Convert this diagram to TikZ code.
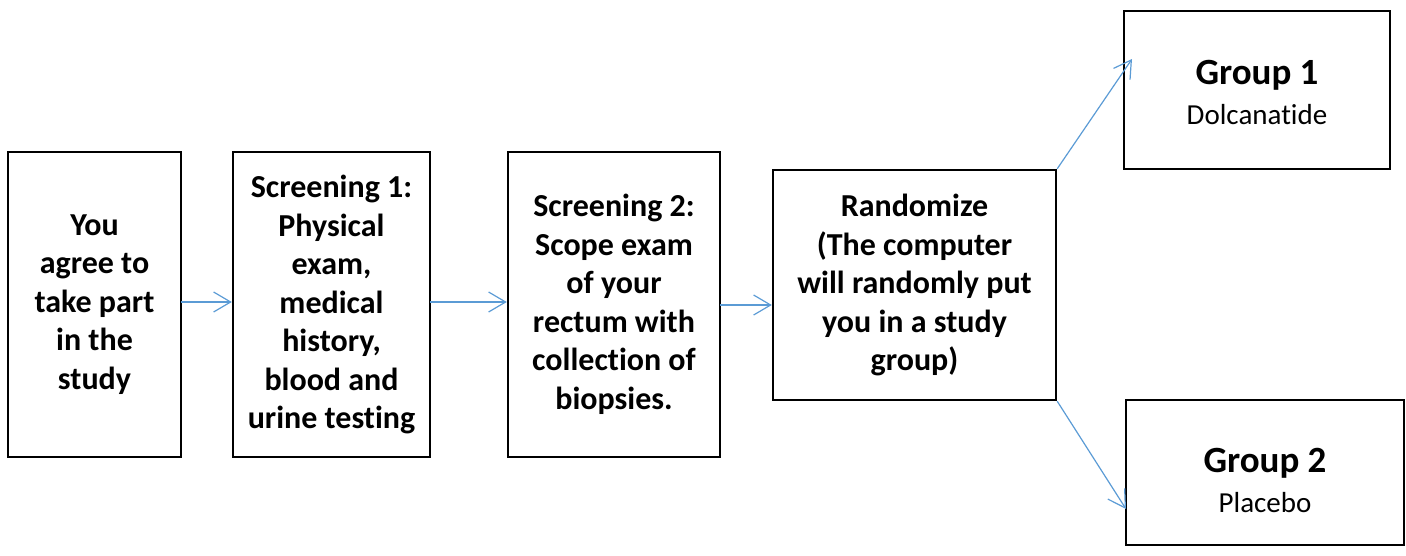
\documentclass[tikz,border=0pt]{standalone}
\usepackage{fontspec}
\setmainfont{Carlito}[Ligatures=NoCommon]
\usetikzlibrary{arrows.meta,calc}
\definecolor{arrowblue}{HTML}{5B9BD5}
\tikzset{
  box/.style={draw=black, line width=2.4pt, inner sep=0pt, align=center,
    font=\fontsize{32}{38.5}\selectfont\bfseries},
  conn/.style={draw=arrowblue, line width=1.2pt,
    -{Straight Barb[length=17pt,width=20pt,line width=1.2pt]}}
}
\begin{document}
\begin{tikzpicture}[x=1pt,y=-1pt]
\useasboundingbox (0,0) rectangle (1406,555);
\node[box, minimum width=173pt, minimum height=305pt] (b1) at (94.5,304.5)
  {You\\agree to\\take part\\in the\\study};
\node[box, minimum width=197pt, minimum height=305pt] (b2) at (331.5,304.5)
  {Screening 1:\\Physical\\exam,\\medical\\history,\\blood and\\urine testing};
\node[box, minimum width=212pt, minimum height=305pt] (b3) at (614,304.5)
  {Screening 2:\\Scope exam\\of your\\rectum with\\collection of\\biopsies.};
\node[box, minimum width=283pt, minimum height=230pt] (b4) at (914.5,285)
  {Randomize\\(The computer\\will randomly put\\you in a study\\group)};
\node[box, minimum width=266pt, minimum height=158pt] (b5) at (1257,90)
  {};
\node[font=\fontsize{37}{40}\selectfont\bfseries, inner sep=0pt] (g1) at (1257,75) {Group 1};
\node[font=\fontsize{29}{40}\selectfont, inner sep=0pt] (d1) at (1257,115) {Dolcanatide};
\node[box, minimum width=278pt, minimum height=145pt] (b6) at (1265,472.5)
  {};
\node[font=\fontsize{37}{40}\selectfont\bfseries, inner sep=0pt] (g2) at (1265,463) {Group 2};
\node[font=\fontsize{29}{40}\selectfont, inner sep=0pt] (d2) at (1265,503) {Placebo};
\coordinate (t1) at (1132,59);
\coordinate (t2) at (1126,509);
\coordinate (s1) at (181,302);
\coordinate (s2) at (430,302);
\coordinate (s3) at (720,305);
\draw[conn] (s1) -- (s1 -| b2.west);
\draw[conn] (s2) -- (s2 -| b3.west);
\draw[conn] (s3) -- (s3 -| b4.west);
\draw[conn] (b4.north east) -- (t1);
\draw[conn] (b4.south east) -- (t2);
\end{tikzpicture}
\end{document}
